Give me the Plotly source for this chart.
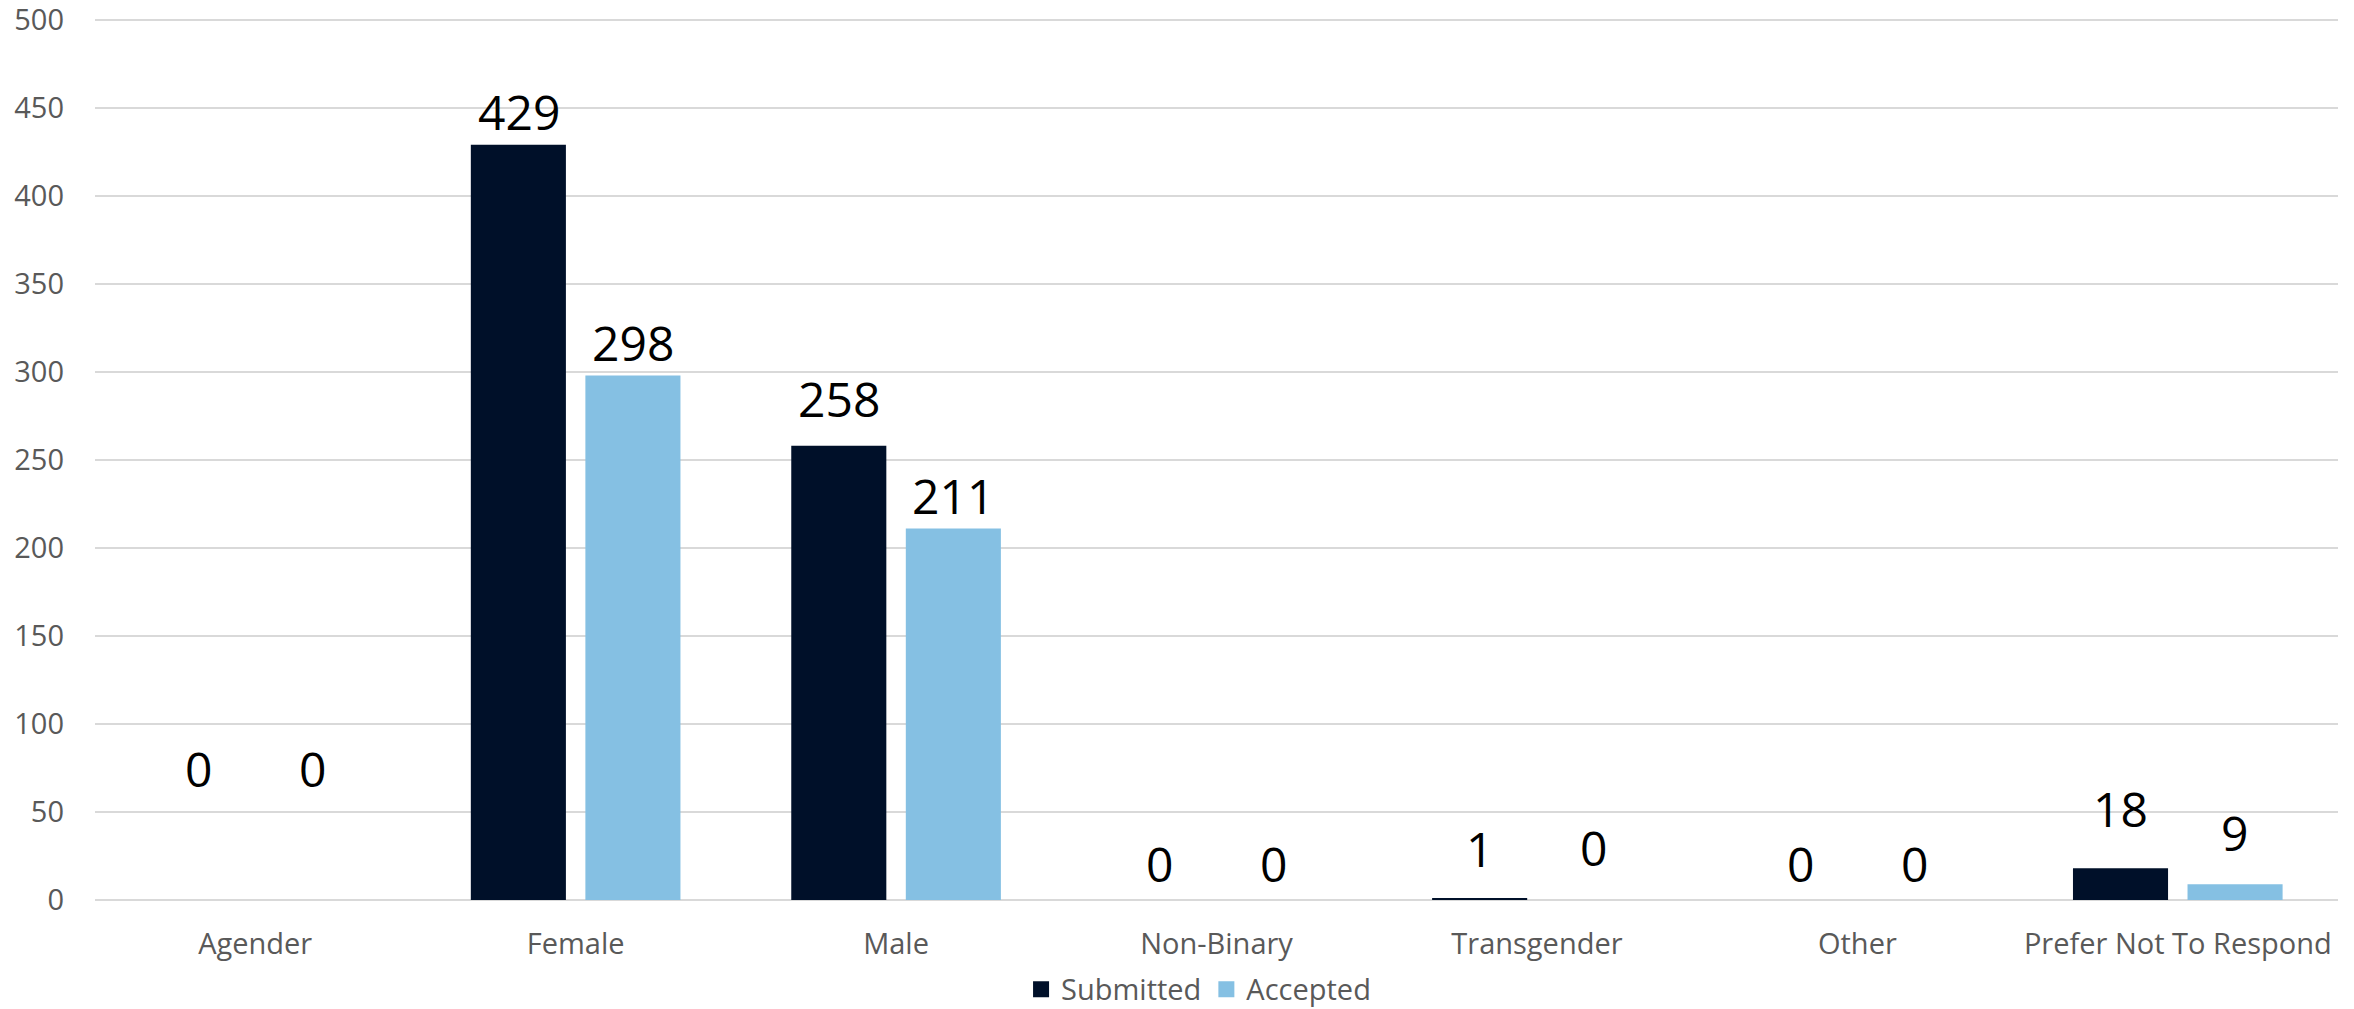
import plotly.graph_objects as go

categories = ["Agender", "Female", "Male", "Non-Binary", "Transgender", "Other", "Prefer Not To Respond"]
submitted = [0, 429, 258, 0, 1, 0, 18]
accepted = [0, 298, 211, 0, 0, 0, 9]
series_names = ["Submitted", "Accepted"]
y_ticks = [0, 50, 100, 150, 200, 250, 300, 350, 400, 450, 500]

# style: how far (px) each data label sits above its bar top
lift_submitted = [132, 33, 47, 37, 50, 37, 60]
lift_accepted = [132, 33, 33, 37, 53, 37, 52]

colors = ["#001029", "#85C0E3"]
font_family = "Open Sans, Lato, sans-serif"

fig = go.Figure()
for name, vals, col in zip(series_names, [submitted, accepted], colors):
    fig.add_trace(go.Bar(
        x=categories, y=vals, name=name, showlegend=False,
        marker=dict(color=col, line=dict(width=0)),
    ))
# legend entries with square swatches
for name, col in zip(series_names, colors):
    fig.add_trace(go.Scatter(
        x=[None], y=[None], mode="markers", name=name,
        marker=dict(symbol="square", size=17, color=col),
    ))

half = 57
for i, cat in enumerate(categories):
    for vals, lifts, xs in ((submitted, lift_submitted, -half), (accepted, lift_accepted, half)):
        fig.add_annotation(
            x=cat, y=vals[i], xref="x", yref="y",
            text=str(vals[i]), showarrow=False,
            xshift=xs, yshift=lifts[i], yanchor="middle",
            font=dict(family=font_family, size=48, color="#000000"),
        )

fig.update_layout(
    width=2354, height=1009,
    margin=dict(l=95, r=16, t=18, b=109),
    paper_bgcolor="white", plot_bgcolor="white",
    barmode="group", bargap=0.285, bargroupgap=0.17,
    font=dict(family=font_family, size=29, color="#595959"),
    showlegend=True,
    legend=dict(
        orientation="h", x=0.492, xanchor="center",
        yref="container", y=0.0195, yanchor="middle",
        font=dict(size=29, color="#595959"), itemwidth=30, traceorder="normal",
    ),
)
fig.update_xaxes(
    showgrid=False, showline=False, zeroline=False, ticks="", automargin=False,
    ticklabelstandoff=24, tickfont=dict(size=29, color="#595959"),
    ticklabeloverflow="allow",
)
fig.update_yaxes(
    range=[0, 501], tickvals=y_ticks, showgrid=True, gridcolor="#D9D9D9", gridwidth=2,
    zeroline=True, zerolinecolor="#D9D9D9", zerolinewidth=2, showline=False, ticks="",
    automargin=False, ticklabeloverflow="allow",
    ticklabelstandoff=30, tickfont=dict(size=29, color="#595959"),
)

fig.write_html(
    "out.html",
    config={"displayModeBar": False},
    post_script="document.body.style.margin='0';document.body.style.overflow='hidden';",
)
